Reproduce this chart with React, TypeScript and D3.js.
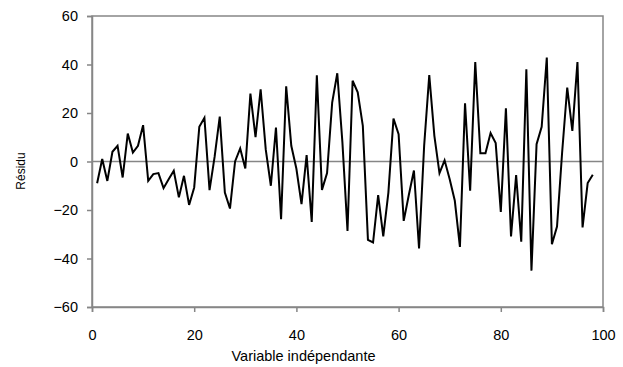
import React, { useEffect, useRef } from 'react';
import * as d3 from 'd3';

// Résidus (x = 1..98)
const xValues: number[] = d3.range(1, 99);
const residus: number[] = [
  -9, 1, -8, 4, 6.5, -6.6, 11.5, 3.7, 6.5, 15,
  -8, -5.2, -4.8, -11, -7.3, -3.8, -14.8, -5.9, -17.9, -10.7,
  14.3, 18, -11.8, 2, 18.5, -12.8, -19.4, 0, 5.4, -2.9,
  28, 10, 29.8, 5, -10, 14, -23.8, 31, 6.5, -3,
  -17.6, 2.6, -24.9, 35.6, -11.7, -4.8, 24.3, 36.4, 8, -28.6,
  33.3, 28.5, 14.7, -32.3, -33.4, -13.9, -30.9, -12.8, 17.7, 11.3,
  -24.5, -13.8, -3.7, -35.9, 6.5, 35.6, 10.6, -4.8, 0.5, -7.3,
  -16.2, -35.2, 24, -12, 41, 3.4, 3.4, 11.7, 7.6, -20.8,
  21.9, -30.9, -5.6, -33.1, 38, -45, 7.1, 14.3, 42.9, -34.1,
  -26.8, 3.7, 30.5, 12.6, 41, -27.2, -8.9, -5.5,
];
const xTicks: number[] = [0, 20, 40, 60, 80, 100];
const yTicks: number[] = [-60, -40, -20, 0, 20, 40, 60];

const width = 623;
const height = 367;

export default function App() {
  const svgRef = useRef<SVGSVGElement>(null);

  useEffect(() => {
    if (!svgRef.current) return;
    const svg = d3.select(svgRef.current);
    svg.selectAll('*').remove();

    const left = 92, right = 603, top = 16, bottom = 307;
    const x = d3.scaleLinear().domain([0, 100]).range([left, right]);
    const y = d3.scaleLinear().domain([-60, 60]).range([bottom, top]);
    const grey = '#868686';
    const font = 'Liberation Sans, Arial, sans-serif';

    // Cadre
    svg.append('rect')
      .attr('x', left)
      .attr('y', top)
      .attr('width', right - left)
      .attr('height', bottom - top)
      .attr('fill', 'none')
      .attr('stroke', grey)
      .attr('stroke-width', 1.5);

    // Axes
    const yAxis = d3.axisLeft(y).tickValues(yTicks).tickSize(5).tickPadding(9);
    const yg = svg.append('g').attr('transform', `translate(${left},0)`).call(yAxis);
    const xAxis = d3.axisBottom(x).tickValues(xTicks).tickSize(5).tickPadding(18);
    const xg = svg.append('g').attr('transform', `translate(0,${bottom})`).call(xAxis);

    [yg, xg].forEach(g => {
      g.select('.domain').attr('stroke', grey).attr('stroke-width', 1.5);
      g.selectAll('.tick line').attr('stroke', grey).attr('stroke-width', 1.5);
      g.selectAll('.tick text')
        .attr('fill', '#000')
        .style('font-family', font)
        .style('font-size', '14.5px');
    });

    // Ligne zéro
    svg.append('line')
      .attr('x1', left)
      .attr('x2', right)
      .attr('y1', y(0))
      .attr('y2', y(0))
      .attr('stroke', grey)
      .attr('stroke-width', 1.5);

    // Courbe des résidus
    const line = d3.line<number>()
      .x((_, i) => x(xValues[i]))
      .y(d => y(d));

    svg.append('path')
      .datum(residus)
      .attr('fill', 'none')
      .attr('stroke', '#000')
      .attr('stroke-width', 2)
      .attr('stroke-linejoin', 'miter')
      .attr('d', line);

    // Titres des axes
    svg.append('text')
      .attr('x', 303.5)
      .attr('y', 361)
      .attr('text-anchor', 'middle')
      .style('font-family', font)
      .style('font-size', '14.5px')
      .text('Variable indépendante');

    svg.append('text')
      .attr('transform', 'translate(25,171) rotate(-90)')
      .attr('text-anchor', 'middle')
      .style('font-family', font)
      .style('font-size', '12px')
      .text('Résidu');
  }, []);

  return (
    <svg
      ref={svgRef}
      width={width}
      height={height}
      style={{ position: 'absolute', left: 0, top: 0, background: '#fff' }}
    />
  );
}
